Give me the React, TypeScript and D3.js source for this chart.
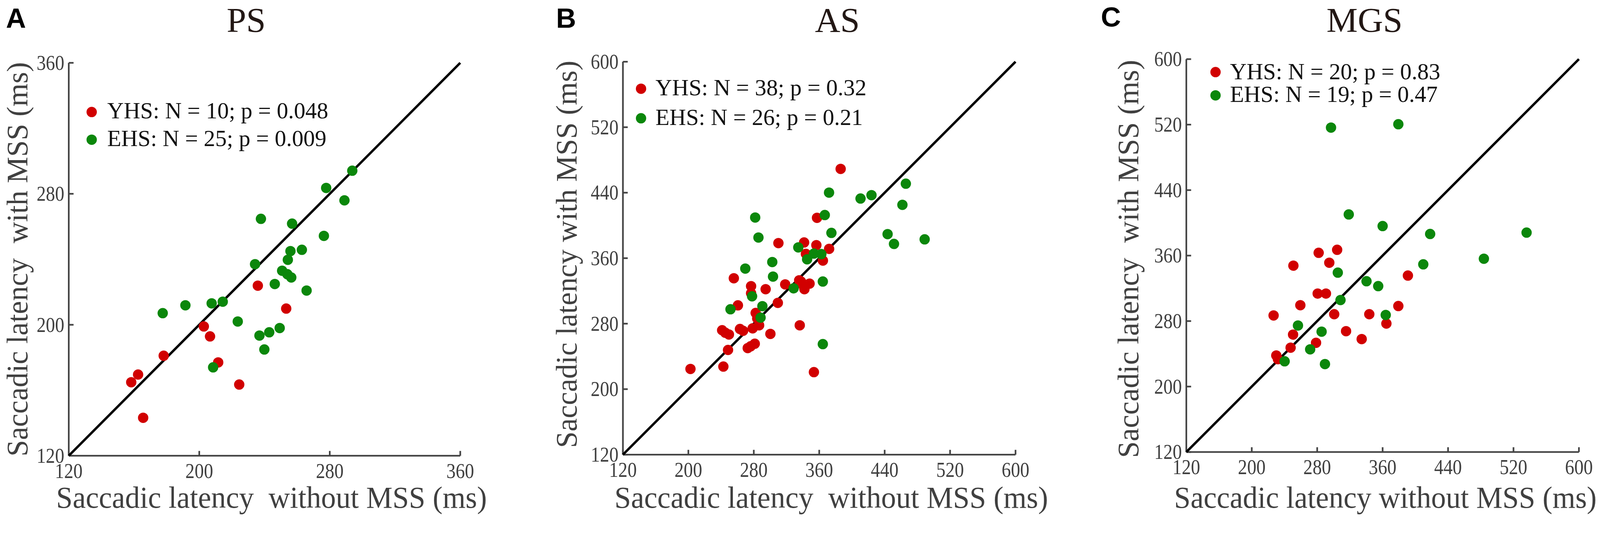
import React from "react"
import * as d3 from "d3"

// ---- data ----
const psTicks = [120, 200, 280, 360]
const wideTicks = [120, 200, 280, 360, 440, 520, 600]

const psYHS: [number, number][] = [
  [158.3, 164.9], [162.5, 169.6], [165.6, 143.2], [178.2, 181.1], [202.8, 199.0],
  [206.6, 192.9], [211.6, 177.0], [224.5, 163.5], [235.9, 223.9], [253.3, 209.9],
]
const psEHS: [number, number][] = [
  [177.6, 207.1], [191.5, 211.9], [207.6, 213.1], [214.4, 214.1], [208.5, 174.0],
  [223.6, 202.0], [234.2, 237.0], [237.8, 264.7], [236.9, 193.4], [242.9, 195.4],
  [239.9, 184.9], [246.3, 224.9], [249.3, 198.0], [250.8, 233.0], [254.3, 239.7],
  [255.9, 245.0], [256.4, 228.9], [254.0, 230.9], [256.9, 261.8], [262.9, 245.8],
  [265.8, 220.9], [276.4, 254.3], [277.8, 283.6], [289.0, 276.0], [293.8, 294.1],
]

const asYHS: [number, number][] = [
  [202.6, 224.7], [242.8, 227.6], [248.5, 247.9], [241.3, 272.0], [245.1, 269.0],
  [249.6, 266.8], [263.1, 273.5], [266.9, 271.3], [255.6, 335.5], [260.6, 302.4],
  [272.6, 250.2], [276.2, 252.4], [281.2, 255.5], [278.6, 274.3], [286.5, 278.0],
  [284.2, 286.3], [282.3, 293.1], [276.7, 325.8], [276.7, 317.2], [294.5, 322.1],
  [300.3, 267.5], [309.4, 305.4], [310.1, 378.4], [318.4, 328.0], [336.2, 278.0],
  [337.7, 331.5], [335.5, 333.0], [339.6, 327.7], [341.9, 322.1], [348.2, 328.9],
  [341.5, 379.2], [343.7, 365.3], [356.5, 375.9], [357.3, 409.3], [364.5, 357.1],
  [372.1, 371.4], [386.2, 469.1], [353.5, 220.8],
]
const asEHS: [number, number][] = [
  [281.7, 409.7], [366.8, 412.7], [374.9, 390.9], [443.6, 389.4], [451.4, 377.4],
  [285.7, 385.2], [334.4, 373.2], [345.2, 358.6], [353.5, 365.6], [362.6, 365.0],
  [302.6, 355.3], [269.6, 347.3], [303.5, 337.5], [364.4, 331.5], [328.7, 323.2],
  [277.9, 313.4], [290.5, 301.4], [251.5, 297.6], [288.3, 287.4], [364.4, 255.0],
  [372.0, 440.1], [410.5, 432.9], [423.9, 437.0], [465.9, 451.0], [461.7, 425.2],
  [488.9, 383.0],
]

const mgsYHS: [number, number][] = [
  [226.7, 286.9], [230.0, 238.0], [232.0, 233.5], [247.5, 247.5], [250.5, 263.5],
  [250.9, 347.7], [259.4, 299.4], [278.6, 253.5], [280.6, 313.6], [290.7, 313.6],
  [281.8, 363.4], [294.8, 351.3], [304.4, 367.1], [300.8, 288.4], [315.3, 267.7],
  [334.4, 258.0], [343.7, 288.4], [364.6, 277.0], [379.2, 298.4], [390.9, 335.6],
]
const mgsEHS: [number, number][] = [
  [240.2, 230.9], [256.5, 274.6], [271.4, 245.5], [285.4, 267.1], [289.5, 227.5],
  [296.9, 516.4], [305.2, 339.2], [308.5, 305.7], [318.6, 410.3], [340.3, 328.7],
  [354.6, 322.7], [360.0, 396.1], [363.8, 287.5], [379.2, 520.5], [409.7, 349.3],
  [418.1, 386.4], [483.8, 356.2], [536.0, 388.1],
]

const psLegend = ["YHS: N = 10; p = 0.048", "EHS: N = 25; p = 0.009"]
const asLegend = ["YHS: N = 38; p = 0.32", "EHS: N = 26; p = 0.21"]
const mgsLegend = ["YHS: N = 20; p = 0.83", "EHS: N = 19; p = 0.47"]

const RED = "#d10000"
const GREEN = "#0b870b"
const GREY = "#404040"
const SERIF = "'Liberation Serif', 'Times New Roman', serif"
const W = 4328
const H = 1398

type PanelCfg = {
  letter: string
  title: string
  domain: [number, number]
  ticks: number[]
  red: [number, number][]
  green: [number, number][]
  legend: string[]
  xLabel: string
  yLabel: string
  // layout
  x0: number; x1: number; top: number; bottom: number
  titleX: number; titleY: number
  letterX: number; letterY: number
  legX: number; legY: number[]; legDotX: number; legDotY: number[]; legLen: number[]
  xlStart: number; xlLen: number
  ylX: number; ylStart: number; ylLen: number
}

const panels: PanelCfg[] = [
  {
    letter: "A", title: "PS", domain: [120, 360], ticks: psTicks,
    red: psYHS, green: psEHS, legend: psLegend,
    xLabel: "Saccadic latency  without MSS (ms)", yLabel: "Saccadic latency  with MSS (ms)",
    x0: 186, x1: 1245, top: 170, bottom: 1233,
    titleX: 666, titleY: 86, letterX: 16, letterY: 75,
    legX: 290, legY: [320, 395], legDotX: 248, legDotY: [303, 378], legLen: [598, 593],
    xlStart: 152, xlLen: 1165, ylX: 74, ylStart: 1235, ylLen: 1067,
  },
  {
    letter: "B", title: "AS", domain: [120, 600], ticks: wideTicks,
    red: asYHS, green: asEHS, legend: asLegend,
    xLabel: "Saccadic latency  without MSS (ms)", yLabel: "Saccadic latency with MSS (ms)",
    x0: 1685, x1: 2747, top: 167, bottom: 1230,
    titleX: 2265, titleY: 86, letterX: 1504, letterY: 75,
    legX: 1773, legY: [258, 338], legDotX: 1734, legDotY: [240, 320], legLen: [571, 561],
    xlStart: 1662, xlLen: 1173, ylX: 1560, ylStart: 1212, ylLen: 1048,
  },
  {
    letter: "C", title: "MGS", domain: [120, 600], ticks: wideTicks,
    red: mgsYHS, green: mgsEHS, legend: mgsLegend,
    xLabel: "Saccadic latency without MSS (ms)", yLabel: "Saccadic latency  with MSS (ms)",
    x0: 3209, x1: 4271, top: 160, bottom: 1223,
    titleX: 3691, titleY: 86, letterX: 2978, letterY: 72,
    legX: 3327, legY: [214, 276], legDotX: 3288, legDotY: [195, 258], legLen: [569, 562],
    xlStart: 3176, xlLen: 1143, ylX: 3079, ylStart: 1239, ylLen: 1077,
  },
]

function Panel({ p }: { p: PanelCfg }) {
  const x = d3.scaleLinear().domain(p.domain).range([p.x0, p.x1])
  const y = d3.scaleLinear().domain(p.domain).range([p.bottom, p.top])
  const diag = d3.line<number>().x((d) => x(d)).y((d) => y(d))(p.domain) ?? ""
  const tickLen = 13
  const labelLen = (v: number) => String(v).length * 25

  return (
    <g>
      <text x={p.letterX} y={p.letterY} fontFamily="'Liberation Sans', Arial, sans-serif"
        fontWeight="bold" fontSize={75} fill="#000">{p.letter}</text>
      <text x={p.titleX} y={p.titleY} textAnchor="middle" fontFamily={SERIF}
        fontSize={95} fill="#231815">{p.title}</text>

      {/* axes */}
      <line x1={p.x0} x2={p.x1} y1={p.bottom} y2={p.bottom} stroke="#444" strokeWidth={4.5} />
      <line x1={p.x0} x2={p.x0} y1={p.bottom} y2={p.top} stroke="#444" strokeWidth={4.5} />
      {p.ticks.map((t) => (
        <g key={"x" + t}>
          <line x1={x(t)} x2={x(t)} y1={p.bottom} y2={p.bottom - tickLen} stroke="#444" strokeWidth={4.5} />
          <text x={x(t)} y={p.bottom + 60} textAnchor="middle" fontFamily={SERIF} fontSize={58}
            fill={GREY} textLength={labelLen(t)} lengthAdjust="spacingAndGlyphs">{t}</text>
        </g>
      ))}
      {p.ticks.map((t) => (
        <g key={"y" + t}>
          <line x1={p.x0} x2={p.x0 + tickLen} y1={y(t)} y2={y(t)} stroke="#444" strokeWidth={4.5} />
          <text x={p.x0 - 12} y={y(t) + 19} textAnchor="end" fontFamily={SERIF} fontSize={58}
            fill={GREY} textLength={labelLen(t)} lengthAdjust="spacingAndGlyphs">{t}</text>
        </g>
      ))}

      {/* axis labels */}
      <text x={p.xlStart} y={1374} fontFamily={SERIF} fontSize={82} fill={GREY}
        textLength={p.xlLen} lengthAdjust="spacingAndGlyphs" style={{ whiteSpace: "pre" }}>
        {p.xLabel}
      </text>
      <text transform={`translate(${p.ylX},${p.ylStart}) rotate(-90)`} fontFamily={SERIF}
        fontSize={80} fill={GREY} textLength={p.ylLen} lengthAdjust="spacingAndGlyphs"
        style={{ whiteSpace: "pre" }}>
        {p.yLabel}
      </text>

      {/* identity line */}
      <path d={diag} stroke="#000" strokeWidth={6.5} fill="none" />

      {/* points */}
      {p.red.map((d, i) => (
        <circle key={"r" + i} cx={x(d[0])} cy={y(d[1])} r={14} fill={RED} />
      ))}
      {p.green.map((d, i) => (
        <circle key={"g" + i} cx={x(d[0])} cy={y(d[1])} r={14} fill={GREEN} />
      ))}

      {/* legend */}
      {p.legend.map((s, i) => (
        <g key={"l" + i}>
          <circle cx={p.legDotX} cy={p.legDotY[i]} r={14} fill={i === 0 ? RED : GREEN} />
          <text x={p.legX} y={p.legY[i]} fontFamily={SERIF} fontSize={62} fill="#111"
            textLength={p.legLen[i]} lengthAdjust="spacingAndGlyphs">{s}</text>
        </g>
      ))}
    </g>
  )
}

export default function App() {
  return (
    <div>
      <style>{"html,body{margin:0;padding:0;overflow:hidden;background:#fff}"}</style>
      <svg viewBox={`0 0 ${W} ${H}`} preserveAspectRatio="xMinYMin meet"
        style={{ display: "block", width: "100vw", height: "100vh", background: "#fff" }}>
        <rect width={W} height={H} fill="#fff" />
        {panels.map((p) => (
          <Panel key={p.letter} p={p} />
        ))}
      </svg>
    </div>
  )
}
